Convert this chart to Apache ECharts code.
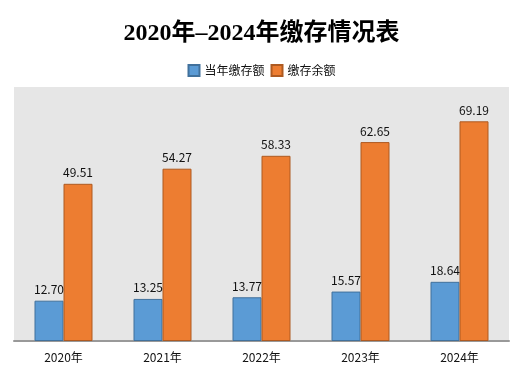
<!DOCTYPE html>
<html>
<head>
<meta charset="utf-8">
<script src="https://cdn.jsdelivr.net/npm/echarts@6/dist/echarts.min.js"></script>
<style>
  html, body { margin: 0; padding: 0; background: #fff; }
  #main { width: 523px; height: 375px; }
</style>
</head>
<body>
<div id="main"></div>
<script>
// 年份
var years = ['2020年', '2021年', '2022年', '2023年', '2024年'];
// 当年缴存额
var yearDeposit = [12.70, 13.25, 13.77, 15.57, 18.64];
// 缴存余额
var depositBalance = [49.51, 54.27, 58.33, 62.65, 69.19];

var chart = echarts.init(document.getElementById('main'));

var labelStyle = {
  show: true,
  position: 'top',
  color: '#111',
  fontSize: 12,
  fontFamily: 'Noto Sans CJK SC',
  formatter: function (p) { return p.value.toFixed(2); }
};

var option = {
  animation: false,
  title: {
    text: '2020年–2024年缴存情况表',
    left: 'center',
    top: 17,
    textStyle: {
      fontSize: 24,
      fontWeight: 'bold',
      color: '#000',
      fontFamily: '"Liberation Serif", "Noto Sans CJK SC", serif'
    }
  },
  legend: {
    top: 59,
    left: 'center',
    icon: 'rect',
    itemWidth: 11,
    itemHeight: 11,
    itemGap: 6,
    textStyle: { fontSize: 12, color: '#111', fontFamily: 'Noto Sans CJK SC' },
    data: ['当年缴存额', '缴存余额']
  },
  grid: {
    left: 14,
    right: 14,
    top: 87,
    bottom: 34,
    show: true,
    backgroundColor: '#e6e6e6',
    borderWidth: 0
  },
  xAxis: {
    type: 'category',
    data: years,
    axisLine: { lineStyle: { color: '#999', width: 2 } },
    axisTick: { show: false },
    axisLabel: { color: '#111', fontSize: 12, margin: 10, fontFamily: 'Noto Sans CJK SC' }
  },
  yAxis: {
    type: 'value',
    min: 0,
    max: 80,
    show: false,
    splitLine: { show: false }
  },
  series: [
    {
      name: '当年缴存额',
      type: 'bar',
      data: yearDeposit,
      barWidth: 29,
      barGap: '0%',
      itemStyle: { color: '#5b9bd5', borderColor: '#41719c', borderWidth: 1 },
      label: labelStyle
    },
    {
      name: '缴存余额',
      type: 'bar',
      data: depositBalance,
      barWidth: 29,
      barGap: '0%',
      itemStyle: { color: '#ed7d31', borderColor: '#ae5a21', borderWidth: 1 },
      label: labelStyle
    }
  ]
};

chart.setOption(option);
</script>
</body>
</html>
